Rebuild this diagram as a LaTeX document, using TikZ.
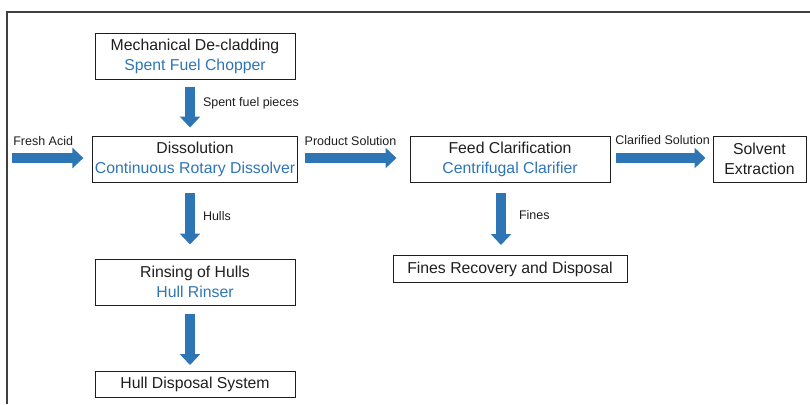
\documentclass[tikz,border=0pt]{standalone}
\usepackage{fontspec}
\setmainfont{Liberation Sans}
\usetikzlibrary{arrows.meta}
\definecolor{flowblue}{RGB}{46,117,182}
\definecolor{inkgray}{RGB}{30,30,30}

\begin{document}
\begin{tikzpicture}[x=1pt, y=-1pt,
    box/.style={rectangle, draw=inkgray, line width=1pt, minimum width=200pt, minimum height=46pt, inner sep=2pt, align=center, text=inkgray, font=\fontsize{15.8}{20}\selectfont},
    lbl/.style={inner sep=1pt, text=inkgray, font=\fontsize{12.5}{15}\selectfont},
    arrow/.style={-{Triangle[width=20pt, length=11pt]}, line width=10pt, flowblue}
]
    \useasboundingbox (0,0) rectangle (810,404);
    % figure frame (top and left edge)
    \draw[line width=1.3pt, gray!50!black] (7,404) -- (7,12) -- (810,12);

    % Process boxes
    \node[box] (chopper) at (195,56.5) {Mechanical De-cladding \\ \textcolor{flowblue}{Spent Fuel Chopper}};
    \node[box] (dissolver) at (195,159) {Dissolution \\ \textcolor{flowblue}{Continuous Rotary Dissolver}};
    \node[box] (clarifier) at (510,159) {Feed Clarification \\ \textcolor{flowblue}{Centrifugal Clarifier}};
    \node[box, minimum width=93pt] (solvent) at (759.5,159) {Solvent \\ Extraction};
    \node[box, minimum width=234pt, minimum height=27pt] (fines) at (510,269) {Fines Recovery and Disposal};
    \node[box] (rinser) at (195,282) {Rinsing of Hulls \\ \textcolor{flowblue}{Hull Rinser}};
    \node[box, minimum height=26pt] (disposal) at (195,384.5) {Hull Disposal System};
    \coordinate (acid) at (12,158);

    % Arrows
    \draw[arrow, shorten >=9pt] (acid) -- (acid -| dissolver.west)
        node[lbl, midway, above=6pt, xshift=-9pt] {Fresh Acid};
    \draw[arrow, shorten <=7pt, shorten >=8pt] ([xshift=-5pt]chopper.south) -- ([xshift=-5pt]dissolver.north)
        node[lbl, midway, anchor=west, xshift=7pt, yshift=4pt] {Spent fuel pieces};
    \draw[arrow, shorten <=7pt, shorten >=13pt] ([yshift=1pt]dissolver.east) -- ([yshift=1pt]clarifier.west)
        node[lbl, midway, above=6pt, xshift=-3pt] {Product Solution};
    \draw[arrow, shorten <=5pt, shorten >=7pt] ([yshift=1pt]clarifier.east) -- ([yshift=1pt]solvent.west)
        node[lbl, midway, above=7pt, xshift=1pt] {Clarified Solution};
    \draw[arrow, shorten <=10pt, shorten >=14pt] ([xshift=-5pt]dissolver.south) -- ([xshift=-5pt]rinser.north)
        node[lbl, midway, anchor=west, xshift=7pt, yshift=4pt] {Hulls};
    \draw[arrow, shorten <=8pt, shorten >=6pt] ([xshift=-5pt]rinser.south) -- ([xshift=-5pt]disposal.north);
    \draw[arrow, shorten <=10pt, shorten >=10pt] ([xshift=-9pt]clarifier.south) -- ([xshift=-9pt]fines.north)
        node[lbl, midway, anchor=west, xshift=12pt, yshift=4pt] {Fines};
\end{tikzpicture}
\end{document}
